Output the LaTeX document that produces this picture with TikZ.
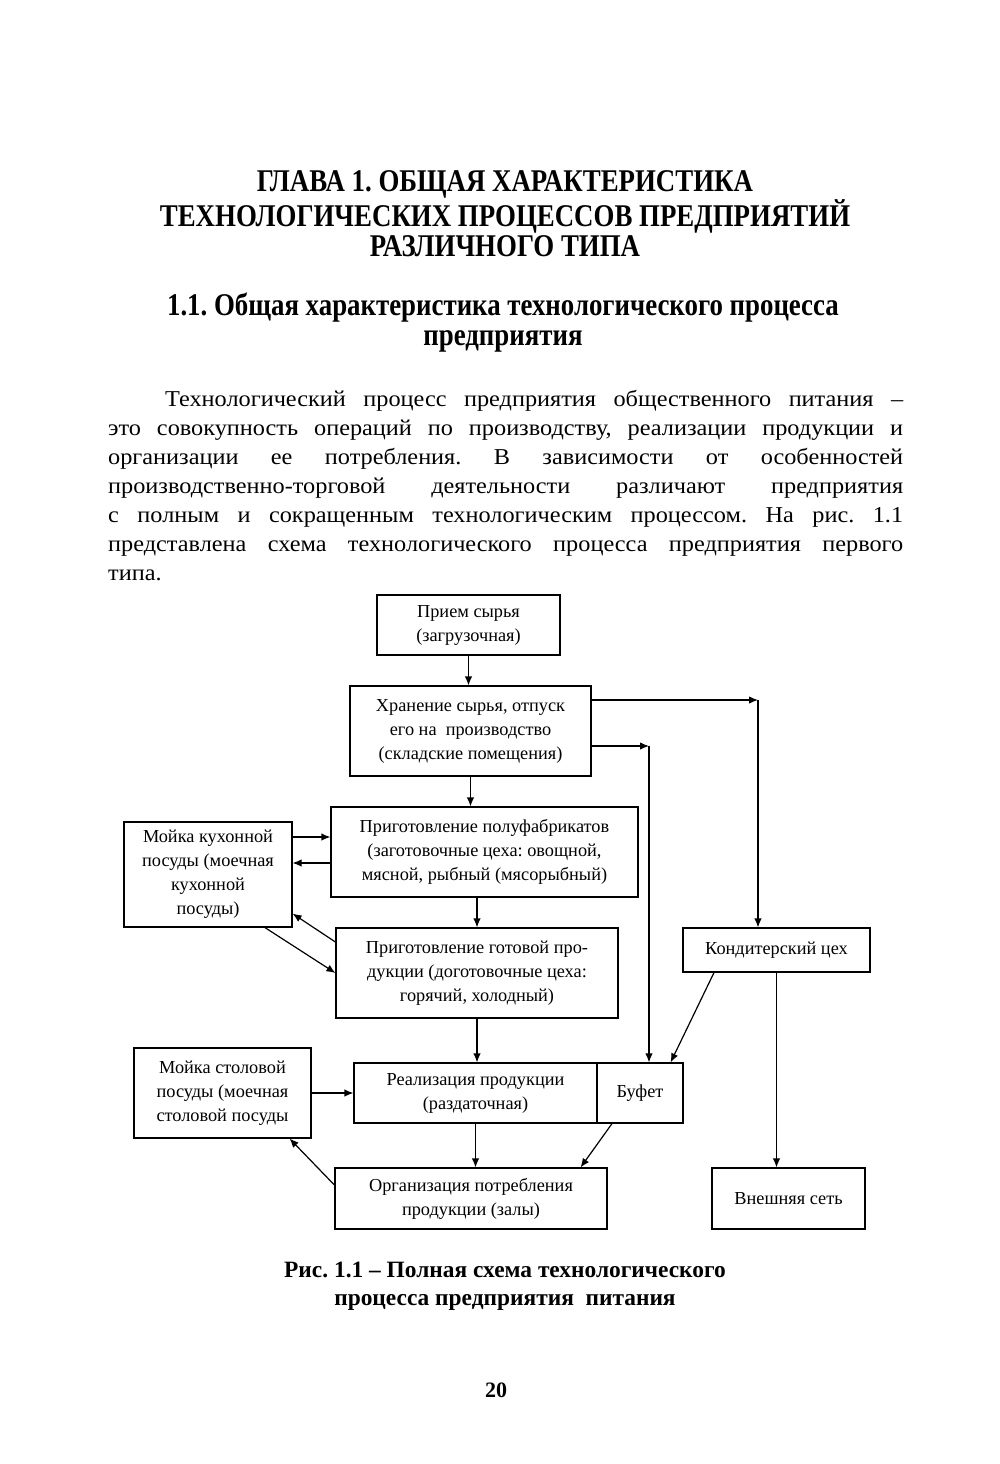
\documentclass[tikz,border=0pt]{standalone}
\usepackage{fontspec}
\setmainfont{Liberation Serif}
\newfontfamily\condfont[FakeStretch=0.85]{Liberation Serif}
\newfontfamily\bodyfont[FakeStretch=1.07]{Liberation Serif}
\usetikzlibrary{arrows.meta,positioning,calc}
\tikzset{b/.style={draw,line width=1.2pt,align=center,inner sep=2pt,font=\fontsize{18.3}{24}\selectfont},
 flow/.style={-{Latex[length=9pt,width=7.5pt]},line width=1.2pt},
 wire/.style={line width=1.2pt},
 txt/.style={align=center,inner sep=0pt}}
\frenchspacing

\begin{document}
\begin{tikzpicture}[x=1pt,y=-1pt]
\useasboundingbox (0,0) rectangle (1000,1464);
% page text
\node[txt,font=\condfont\bfseries\fontsize{31.6}{30}\selectfont](hd) at (505,214){ГЛАВА 1. ОБЩАЯ ХАРАКТЕРИСТИКА\\ТЕХНОЛОГИЧЕСКИХ ПРОЦЕССОВ ПРЕДПРИЯТИЙ\\РАЗЛИЧНОГО ТИПА};
\node[txt,font=\condfont\bfseries\fontsize{31.6}{30}\selectfont](sec) at (503,323){1.1. Общая характеристика технологического процесса\\предприятия};
\node[txt,anchor=north west,text width=795pt,align=justify,font=\bodyfont\fontsize{22.7}{29}\selectfont](par) at (108,390){\frenchspacing\hyphenpenalty=10000\exhyphenpenalty=10000\tolerance=10000\hspace*{57pt}Технологический процесс предприятия общественного питания~–\linebreak это совокупность операций по производству, реализации продукции и\linebreak организации ее потребления. В зависимости от особенностей\linebreak производственно-торговой деятельности различают предприятия\linebreak с полным и сокращенным технологическим процессом. На рис.~1.1\linebreak представлена схема технологического процесса предприятия первого\linebreak типа.};
% boxes
\node[b,minimum width=183pt,minimum height=60pt](pr) at (468.5,625){Прием сырья\\(загрузочная)};
\node[b,minimum width=241pt,minimum height=90pt](hr) at (470.5,731){Хранение сырья, отпуск\\его на\ \ производство\\(складские помещения)};
\node[b,minimum width=307pt,minimum height=90pt](pf) at (484.5,852){Приготовление полуфабрикатов\\(заготовочные цеха: овощной,\\мясной, рыбный (мясорыбный)};
\node[b,minimum width=168pt,minimum height=105pt](mk) at (208,874.5){Мойка кухонной\\посуды (моечная\\кухонной\\посуды)};
\node[b,minimum width=282pt,minimum height=90pt](gp) at (477,973){Приготовление готовой про-\\дукции (доготовочные цеха:\\горячий, холодный)};
\node[b,minimum width=187pt,minimum height=44pt](kc) at (776.5,950){Кондитерский цех};
\node[b,minimum width=177pt,minimum height=90pt](ms) at (222.5,1093){Мойка столовой\\посуды (моечная\\столовой посуды};
\node[b,minimum width=243pt,minimum height=60pt](rp) at (475.5,1093){Реализация продукции\\(раздаточная)};
\node[b,minimum width=86pt,minimum height=60pt](bf) at (640,1093){Буфет};
\node[b,minimum width=272pt,minimum height=61pt](op) at (471,1198.5){Организация потребления\\продукции (залы)};
\node[b,minimum width=153pt,minimum height=61pt](vs) at (788.5,1198.5){Внешняя сеть};
% connectors
\draw[flow](pr.south)--(pr.south|-hr.north);
\draw[flow](hr.south)--(hr.south|-pf.north);
\draw[flow](pf.south-|gp.north)--(gp.north);
\draw[flow](gp.south)--(gp.south|-rp.north);
\draw[flow](rp.south)--(rp.south|-op.north);
\draw[flow]([yshift=37.5pt]mk.east)--([yshift=37.5pt]mk.east-|pf.west);
\draw[flow]([yshift=11.5pt]mk.east-|pf.west)--([yshift=11.5pt]mk.east);
\draw[flow]([yshift=31pt]gp.west)--([yshift=14pt]mk.south east);
\draw[flow]([xshift=57pt]mk.south)--(gp.west);
\coordinate(k1) at (758,700);\coordinate(b1) at (649,746);
\draw[flow]([yshift=31pt]hr.east)--(k1);\draw[flow](k1)--(k1|-kc.north);
\draw[flow]([yshift=-15pt]hr.east)--(b1);\draw[flow](b1)--(b1|-bf.north);
\draw[flow]([xshift=-62.5pt]kc.south)--([xshift=-13pt]bf.north east);
\draw[flow](kc.south)--(kc.south|-vs.north);
\draw[flow](ms.east)--(rp.west);
\draw[flow]([yshift=13.5pt]op.west)--([xshift=-22pt]ms.south east);
\draw[flow]([xshift=-28pt]bf.south)--([xshift=-27pt]op.north east);
% caption
\node[txt,font=\bfseries\fontsize{23.4}{28}\selectfont](cap) at (505,1286){Рис. 1.1 – Полная схема технологического\\процесса предприятия\ \ питания};
\node[txt,font=\bfseries\fontsize{22}{28}\selectfont](pg) at (496,1390){20};
\end{tikzpicture}
\end{document}
